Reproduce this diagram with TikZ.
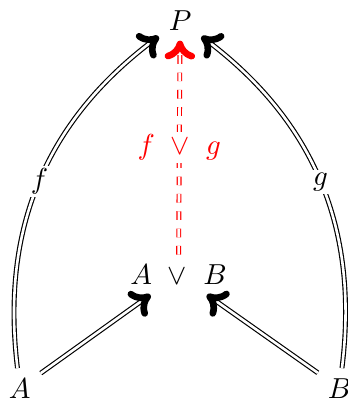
\documentclass[tikz,border=0pt]{standalone}
\usetikzlibrary{arrows.meta,positioning}

\begin{document}
\begin{tikzpicture}[
  obj/.style={inner sep=3.33pt},
  fat/.style={-{Computer Modern Rightarrow[line width=2.3pt, width=10.5pt, length=6.5pt]}},
  mor/.style={fat, double, double distance=0.9pt},
  lbl/.style={fill=white, inner sep=1pt},
  ind/.style={fat, double, double distance=0.9pt, dashed, red}
]
  \useasboundingbox (0,0) rectangle (4.23,4.90);
  \node[obj] (P) at (2.19,4.65) {$P$};
  \node[obj] (AB) at (2.17,1.56) {$A \ \vee\ B$};
  \node[obj] (A) at (0.24,0.18) {$A$};
  \node[obj] (B) at (4.13,0.18) {$B$};

  \draw[mor] (A) -- (AB);
  \draw[mor] (B) -- (AB);
  \draw[mor] (A) to[bend left=30] node[lbl] {$f$} (P);
  \draw[mor] (B) to[bend right=30] node[lbl] {$g$} (P);
  \draw[ind] (AB) -- node[lbl, text=red] {$f \ \vee\ g$} (P);
\end{tikzpicture}
\end{document}
